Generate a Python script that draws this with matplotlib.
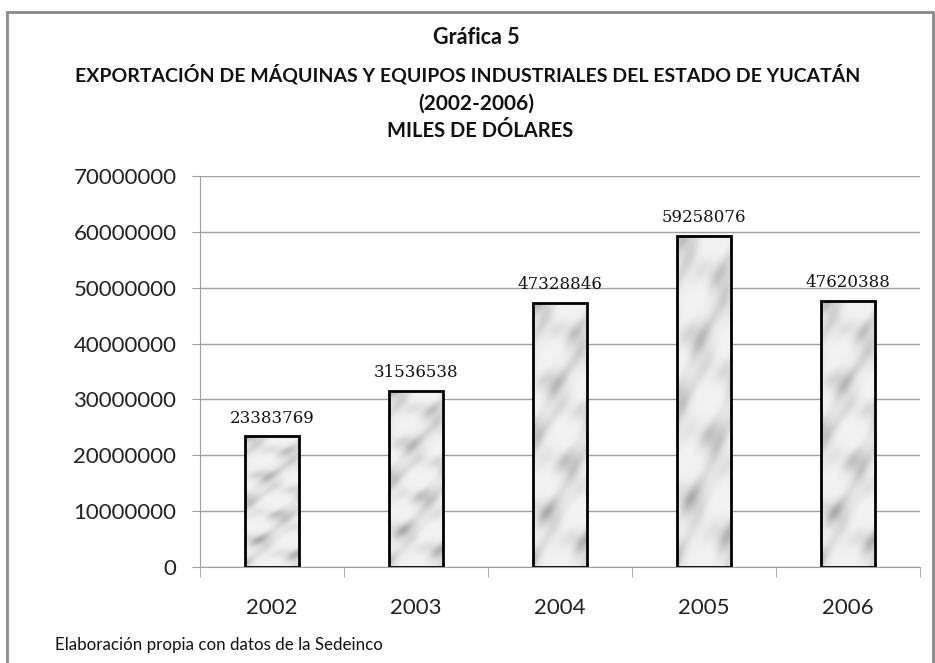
import numpy as np
import matplotlib
matplotlib.use("Agg")
import matplotlib.pyplot as plt
from matplotlib.patches import Rectangle

years = ["2002", "2003", "2004", "2005", "2006"]
values = [23383769, 31536538, 47328846, 59258076, 47620388]
yticks = [0, 10000000, 20000000, 30000000, 40000000, 50000000, 60000000, 70000000]

W, H = 935, 663
fig = plt.figure(figsize=(W / 100, H / 100), dpi=100)
fig.patch.set_facecolor("white")

# outer frame
fig.patches.append(Rectangle((7 / W, -0.05), (933 - 7) / W, 1.05 - 12 / H,
                             transform=fig.transFigure, fill=False,
                             edgecolor="#8a8a8a", lw=2.0))

left, right, top, bottom = 200, 920, 176, 567
ax = fig.add_axes([left / W, 1 - bottom / H, (right - left) / W, (bottom - top) / H])

x = np.arange(len(years))
bars = ax.bar(x, values, width=0.375, facecolor="none", edgecolor="black",
              linewidth=2.0, zorder=3)

# soft marble-like deterministic texture clipped to each bar
yy, xx = np.mgrid[0:300, 0:60]
s = (0.45 * np.sin(xx * 0.11 + yy * 0.05) + 0.35 * np.sin(yy * 0.083 - xx * 0.07 + 1.3)
     + 0.25 * np.sin(xx * 0.05 + yy * 0.13 + 2.1) + 0.12 * np.sin(xx * 0.3 + yy * 0.2))
s = (s - s.min()) / (s.max() - s.min())
tex = 0.95 - 0.28 * s ** 3
for b in bars:
    x0, w, h = b.get_x(), b.get_width(), b.get_height()
    im = ax.imshow(tex, cmap="gray", vmin=0, vmax=1, extent=(x0, x0 + w, 0, h),
                   aspect="auto", zorder=2.5, interpolation="bilinear")
    im.set_clip_path(b)

for xi, v in zip(x, values):
    ax.annotate(f"{v}", (xi, v), xytext=(0, 7), textcoords="offset points",
                ha="center", va="bottom", fontsize=12, family="DejaVu Serif",
                color="#111111")

ax.set_xlim(-0.5, len(years) - 0.5)
ax.set_ylim(0, 70000000)
ax.set_yticks(yticks)
ax.set_yticklabels([str(t) for t in yticks], fontsize=16, family="Lato", color="#222222")
ax.yaxis.grid(True, color="#a0a0a0", lw=1.0, zorder=0)
ax.set_axisbelow(True)
ax.tick_params(axis="y", length=6, color="#a0a0a0", pad=11)

ax.set_xticks(x)
ax.set_xticklabels(years, fontsize=16, family="Lato", color="#222222")
ax.tick_params(axis="x", length=0, pad=22)
# category boundary ticks
ax.set_xticks(np.arange(-0.5, len(years)), minor=True)
ax.tick_params(axis="x", which="minor", length=7, color="#a0a0a0")

for sp in ["top", "right"]:
    ax.spines[sp].set_visible(False)
ax.spines["left"].set_color("#a0a0a0")
ax.spines["bottom"].set_color("#a0a0a0")

tfont = dict(family="Lato", weight="bold", ha="center", va="center", color="#111111")
fig.text(476 / W, 1 - 38 / H, "Gráfica 5", fontsize=15.5, **tfont)
fig.text(468 / W, 1 - 74 / H,
         "EXPORTACIÓN DE MÁQUINAS Y EQUIPOS INDUSTRIALES DEL ESTADO DE YUCATÁN",
         fontsize=14, **tfont)
fig.text(476 / W, 1 - 104 / H, "(2002-2006)", fontsize=15, **tfont)
fig.text(480 / W, 1 - 131 / H, "MILES DE DÓLARES", fontsize=14.5, **tfont)

fig.text(55 / W, 1 - 645 / H, "Elaboración propia con datos de la Sedeinco",
         fontsize=12.2, family="Lato", ha="left", va="center", color="#111111")

fig.savefig("out.png", dpi=100)
